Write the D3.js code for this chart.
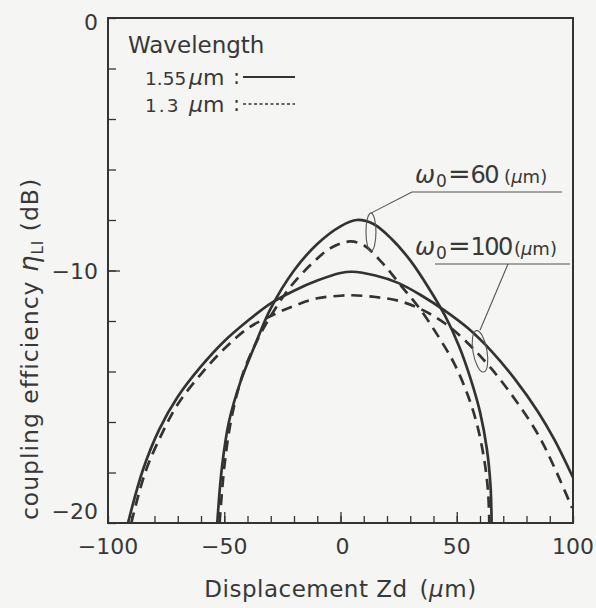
<!DOCTYPE html>
<html>
<head>
<meta charset="utf-8">
<script src="https://cdn.jsdelivr.net/npm/d3@7"></script>
<style>
body { margin: 0; background: #f5f5f3; }
svg text { font-family: "DejaVu Sans", sans-serif; fill: #383838; }
</style>
</head>
<body>
<div id="chart"></div>
<script>
// curves: [Zd (um), coupling efficiency (dB)]
var w60_155 = [[-53, -20], [-51, -17.8], [-48, -16.0], [-43, -14.4], [-37, -13.0], [-30, -11.5],
    [-20, -10.0], [-10, -8.95], [0, -8.25], [7, -8.0], [14, -8.15], [22, -8.75], [30, -9.6],
    [38, -10.7], [45, -11.8], [51, -13.0], [56, -14.3], [60, -15.6], [63, -17.1], [64.5, -18.5], [65, -20]];
var w60_13 = [[-52, -20], [-50, -17.8], [-47, -15.9], [-42, -14.1], [-36, -12.8], [-30, -11.8],
    [-22, -10.7], [-12, -9.7], [-4, -9.1], [4, -8.85], [10, -9.0], [18, -9.7], [26, -10.6],
    [34, -11.5], [42, -12.6], [49, -13.7], [55, -15.0], [59, -16.2], [62, -17.6], [63.5, -18.8], [64, -20]];
var w100_155 = [[-91.4, -20], [-85, -17.9], [-78, -16.3], [-70, -15.0], [-60, -13.8], [-50, -12.8],
    [-40, -12.0], [-30, -11.3], [-20, -10.8], [-10, -10.4], [0, -10.1], [5, -10.05], [15, -10.2],
    [25, -10.5], [35, -11.0], [45, -11.6], [55, -12.3], [65, -13.2], [75, -14.3], [85, -15.6],
    [92, -16.7], [100, -18.2]];
var w100_13 = [[-90, -20], [-84, -18.0], [-77, -16.5], [-70, -15.3], [-60, -14.1], [-50, -13.1],
    [-40, -12.3], [-30, -11.8], [-20, -11.4], [-10, -11.1], [0, -11.0], [5, -10.98], [15, -11.05],
    [25, -11.2], [35, -11.55], [45, -12.1], [55, -12.9], [65, -13.9], [75, -15.1], [85, -16.5],
    [92, -17.8], [99.6, -19.4]];

var xTickLabels = [-100, -50, 0, 50, 100];
var yTickLabels = [0, -10, -20];
var waists = ["60", "100"];

var svgWidth = 596;
var svgHeight = 608;
var margin = { t: 18, r: 23, b: 85, l: 108 };
var width = svgWidth - margin.l - margin.r;
var height = svgHeight - margin.t - margin.b;

var svg = d3.select("#chart")
    .append("svg")
    .attr("width", svgWidth)
    .attr("height", svgHeight);

var chartGroup = svg.append("g")
    .attr("transform", `translate(${margin.l}, ${margin.t})`);

var x = d3.scaleLinear().domain([-100, 100]).range([0, width]);
var y = d3.scaleLinear().domain([-20, 0]).range([height, 0]);

var ink = "#333";
var fmt = d => d < 0 ? "\u2212" + Math.abs(d) : d;

// inward ticks
chartGroup.append("g")
    .attr("transform", `translate(0, ${height})`)
    .call(d3.axisBottom(x).tickValues(d3.range(-100, 101, 10)).tickSize(-7).tickFormat(""));
chartGroup.append("g")
    .attr("transform", `translate(0, ${height})`)
    .call(d3.axisBottom(x).tickValues([-50, 0, 50]).tickSize(-11).tickFormat(""));
chartGroup.append("g")
    .call(d3.axisLeft(y).tickValues(d3.range(-20, 1, 2)).tickSize(-8).tickFormat(""));
chartGroup.append("g")
    .call(d3.axisLeft(y).tickValues([-10]).tickSize(-12).tickFormat(""));
chartGroup.selectAll(".domain").remove();
chartGroup.selectAll(".tick line").attr("stroke", ink).attr("stroke-width", 1.3);

// frame
chartGroup.append("rect")
    .attr("width", width)
    .attr("height", height)
    .attr("fill", "none")
    .attr("stroke", ink)
    .attr("stroke-width", 2);

// tick labels
chartGroup.selectAll(null)
    .data(xTickLabels)
    .enter()
    .append("text")
    .attr("x", d => x(d) + (d === 0 ? 2 : 0))
    .attr("y", height + 31)
    .attr("text-anchor", "middle")
    .attr("font-size", "22px")
    .text(fmt);

chartGroup.selectAll(null)
    .data(yTickLabels)
    .enter()
    .append("text")
    .attr("x", -10)
    .attr("y", d => y(d) + (d === -20 ? -12 : d === 0 ? 4 : 1))
    .attr("dy", "0.36em")
    .attr("text-anchor", "end")
    .attr("font-size", "22px")
    .text(fmt);

// curves
chartGroup.append("clipPath").attr("id", "plotClip")
    .append("rect").attr("width", width).attr("height", height);

var line = d3.line()
    .x(d => x(d[0]))
    .y(d => y(d[1]))
    .curve(d3.curveCatmullRom.alpha(0.5));

var curves = [
    { data: w60_155, dash: null },
    { data: w60_13, dash: "11,7" },
    { data: w100_155, dash: null },
    { data: w100_13, dash: "11,7" }
];

chartGroup.append("g")
    .attr("clip-path", "url(#plotClip)")
    .selectAll("path")
    .data(curves)
    .enter()
    .append("path")
    .attr("d", d => line(d.data))
    .attr("fill", "none")
    .attr("stroke", ink)
    .attr("stroke-width", 2.7)
    .attr("stroke-dasharray", d => d.dash);

// legend
var legend = chartGroup.append("g");
legend.append("text").attr("x", 20).attr("y", 35).attr("font-size", "23px").text("Wavelength");

var legendRows = [
    { num: "1.55", dy: 67, dash: null, w: 2, ls: 0 },
    { num: "1.3", dy: 94, dash: "3,2.5", w: 1.3, ls: 2 }
];
legendRows.forEach(function(r) {
    legend.append("text").attr("x", 37).attr("y", r.dy).attr("font-size", "18.5px")
        .attr("letter-spacing", r.ls + "px").text(r.num);
    var t = legend.append("text").attr("x", 81).attr("y", r.dy).attr("font-size", "22px");
    t.append("tspan").attr("font-style", "italic").text("\u03bc");
    t.append("tspan").text("m");
    legend.append("text").attr("x", 125).attr("y", r.dy - 1).attr("font-size", "21px").text(":");
    legend.append("line")
        .attr("x1", 135).attr("x2", 187)
        .attr("y1", r.dy - 8).attr("y2", r.dy - 8)
        .attr("stroke", ink).attr("stroke-width", r.w)
        .attr("stroke-dasharray", r.dash);
});

// beam waist annotations
var notes = [
    { w: waists[0], gap: 6, ex: 13.1, ey: -8.48, rx: 5, ry: 19, rot: 0,
      ty: 165, ux1: 304, ux2: 454, lx: 304 },
    { w: waists[1], gap: 2, ex: 60, ey: -13.2, rx: 7, ry: 21, rot: -10,
      ty: 237, ux1: 327, ux2: 462, lx: 400 }
];
notes.forEach(function(n) {
    var cx = x(n.ex), cy = y(n.ey);
    chartGroup.append("ellipse")
        .attr("cx", cx).attr("cy", cy)
        .attr("rx", n.rx).attr("ry", n.ry)
        .attr("transform", `rotate(${n.rot}, ${cx}, ${cy})`)
        .attr("fill", "none").attr("stroke", "#555").attr("stroke-width", 1.1);
    chartGroup.append("line")
        .attr("x1", cx).attr("y1", cy - n.ry)
        .attr("x2", n.lx).attr("y2", n.ty + 9)
        .attr("stroke", "#555").attr("stroke-width", 1.1);
    chartGroup.append("line")
        .attr("x1", n.ux1).attr("x2", n.ux2)
        .attr("y1", n.ty + 9).attr("y2", n.ty + 9)
        .attr("stroke", "#555").attr("stroke-width", 1.1);
    var t = chartGroup.append("text").attr("x", 307).attr("y", n.ty).attr("font-size", "24px");
    t.append("tspan").attr("font-style", "italic").text("\u03c9");
    t.append("tspan").attr("font-size", "17px").attr("dx", 1).attr("dy", 4).text("0");
    t.append("tspan").attr("font-size", "27px").attr("dx", 1).attr("dy", -4).text("=");
    t.append("tspan").attr("letter-spacing", "-1.5px").text(n.w);
    t.append("tspan").attr("font-size", "18px").attr("dx", n.gap).text("(");
    t.append("tspan").attr("font-size", "18px").attr("font-style", "italic").text("\u03bc");
    t.append("tspan").attr("font-size", "18px").text("m)");
});

// axis titles
var xt = svg.append("text")
    .attr("x", margin.l + x(0))
    .attr("y", 597)
    .attr("text-anchor", "middle")
    .attr("letter-spacing", "0.5px")
    .attr("font-size", "23px");
xt.append("tspan").text("Displacement Zd\u2002(");
xt.append("tspan").attr("font-style", "italic").text("\u03bc");
xt.append("tspan").text("m)");

var yt = svg.append("text")
    .attr("transform", "translate(38, 349) rotate(-90)")
    .attr("text-anchor", "middle")
    .attr("letter-spacing", "1px")
    .attr("font-size", "23.5px");
yt.append("tspan").text("coupling efficiency ");
yt.append("tspan").attr("font-style", "italic").attr("font-size", "26px").text("\u03b7");
yt.append("tspan").attr("font-size", "15px").attr("dy", 5).text("LI");
yt.append("tspan").attr("dy", -5).text(" (dB)");
</script>
</body>
</html>
